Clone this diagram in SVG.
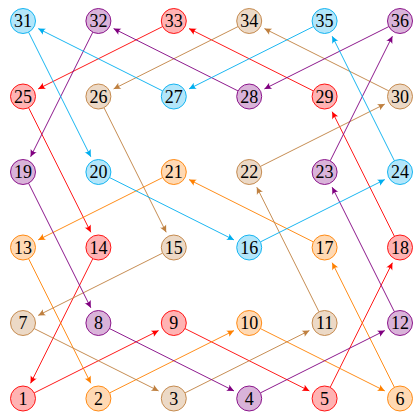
<svg xmlns="http://www.w3.org/2000/svg" width="413" height="417" viewBox="0 0 413 417">
<style>
.n circle{stroke-width:0.9}
.n text{font-family:"Liberation Serif","DejaVu Serif",serif;font-size:18px;text-anchor:middle;fill:#000}
.red circle{fill:#ffb3b3;stroke:#ff0000}
.org circle{fill:#ffd9b3;stroke:#ff8000}
.tan circle{fill:#ecd9c6;stroke:#bf8040}
.pur circle{fill:#d9b3d9;stroke:#800080}
.cya circle{fill:#b3e6fa;stroke:#00aeef}
.e line{stroke-width:0.9;fill:none}
.er{stroke:#ff0000;marker-end:url(#ar)}
.eo{stroke:#ff8000;marker-end:url(#ao)}
.et{stroke:#bf8040;marker-end:url(#at)}
.ep{stroke:#800080;marker-end:url(#ap)}
.ec{stroke:#00aeef;marker-end:url(#ac)}
</style>
<defs>
<marker id="ar" viewBox="-8 -5 10 10" refX="0" refY="0" markerWidth="10" markerHeight="10" markerUnits="userSpaceOnUse" orient="auto"><path d="M0,0 L-7,-3.4 Q-4.6,0 -7,3.4 Z" fill="#ff0000"/></marker>
<marker id="ao" viewBox="-8 -5 10 10" refX="0" refY="0" markerWidth="10" markerHeight="10" markerUnits="userSpaceOnUse" orient="auto"><path d="M0,0 L-7,-3.4 Q-4.6,0 -7,3.4 Z" fill="#ff8000"/></marker>
<marker id="at" viewBox="-8 -5 10 10" refX="0" refY="0" markerWidth="10" markerHeight="10" markerUnits="userSpaceOnUse" orient="auto"><path d="M0,0 L-7,-3.4 Q-4.6,0 -7,3.4 Z" fill="#bf8040"/></marker>
<marker id="ap" viewBox="-8 -5 10 10" refX="0" refY="0" markerWidth="10" markerHeight="10" markerUnits="userSpaceOnUse" orient="auto"><path d="M0,0 L-7,-3.4 Q-4.6,0 -7,3.4 Z" fill="#800080"/></marker>
<marker id="ac" viewBox="-8 -5 10 10" refX="0" refY="0" markerWidth="10" markerHeight="10" markerUnits="userSpaceOnUse" orient="auto"><path d="M0,0 L-7,-3.4 Q-4.6,0 -7,3.4 Z" fill="#00aeef"/></marker>
</defs>
<g id="connectors" class="e">
<line class="er" x1="34.18" y1="392.91" x2="158.59" y2="330.60"/>
<line class="er" x1="184.98" y1="328.59" x2="309.39" y2="390.90"/>
<line class="er" x1="330.19" y1="387.32" x2="392.40" y2="262.71"/>
<line class="er" x1="394.41" y1="236.32" x2="332.20" y2="111.71"/>
<line class="er" x1="313.42" y1="90.91" x2="189.01" y2="28.60"/>
<line class="er" x1="162.62" y1="26.59" x2="38.21" y2="88.90"/>
<line class="er" x1="28.59" y1="107.68" x2="90.80" y2="232.29"/>
<line class="er" x1="92.81" y1="258.68" x2="30.60" y2="383.29"/>
<line class="eo" x1="109.58" y1="392.91" x2="233.99" y2="330.60"/>
<line class="eo" x1="260.38" y1="328.59" x2="384.79" y2="390.90"/>
<line class="eo" x1="394.41" y1="387.32" x2="332.20" y2="262.71"/>
<line class="eo" x1="313.42" y1="241.91" x2="189.01" y2="179.60"/>
<line class="eo" x1="162.62" y1="177.59" x2="38.21" y2="239.90"/>
<line class="eo" x1="28.59" y1="258.68" x2="90.80" y2="383.29"/>
<line class="et" x1="184.98" y1="392.91" x2="309.39" y2="330.60"/>
<line class="et" x1="319.01" y1="311.82" x2="256.80" y2="187.21"/>
<line class="et" x1="260.38" y1="166.41" x2="384.79" y2="104.10"/>
<line class="et" x1="388.82" y1="90.91" x2="264.41" y2="28.60"/>
<line class="et" x1="238.02" y1="26.59" x2="113.61" y2="88.90"/>
<line class="et" x1="103.99" y1="107.68" x2="166.20" y2="232.29"/>
<line class="et" x1="162.62" y1="253.09" x2="38.21" y2="315.40"/>
<line class="et" x1="34.18" y1="328.59" x2="158.59" y2="390.90"/>
<line class="ep" x1="260.38" y1="392.91" x2="384.79" y2="330.60"/>
<line class="ep" x1="394.41" y1="311.82" x2="332.20" y2="187.21"/>
<line class="ep" x1="330.19" y1="160.82" x2="392.40" y2="36.21"/>
<line class="ep" x1="388.82" y1="26.59" x2="264.41" y2="88.90"/>
<line class="ep" x1="238.02" y1="90.91" x2="113.61" y2="28.60"/>
<line class="ep" x1="92.81" y1="32.18" x2="30.60" y2="156.79"/>
<line class="ep" x1="28.59" y1="183.18" x2="90.80" y2="307.79"/>
<line class="ep" x1="109.58" y1="328.59" x2="233.99" y2="390.90"/>
<line class="ec" x1="260.38" y1="241.91" x2="384.79" y2="179.60"/>
<line class="ec" x1="394.41" y1="160.82" x2="332.20" y2="36.21"/>
<line class="ec" x1="313.42" y1="26.59" x2="189.01" y2="88.90"/>
<line class="ec" x1="162.62" y1="90.91" x2="38.21" y2="28.60"/>
<line class="ec" x1="28.59" y1="32.18" x2="90.80" y2="156.79"/>
<line class="ec" x1="109.58" y1="177.59" x2="233.99" y2="239.90"/>
</g>
<g id="n1" class="n red"><circle cx="23" cy="398.5" r="12.5"/><text x="23" y="404.5">1</text></g>
<g id="n2" class="n org"><circle cx="98.4" cy="398.5" r="12.5"/><text x="98.4" y="404.5">2</text></g>
<g id="n3" class="n tan"><circle cx="173.8" cy="398.5" r="12.5"/><text x="173.8" y="404.5">3</text></g>
<g id="n4" class="n pur"><circle cx="249.2" cy="398.5" r="12.5"/><text x="249.2" y="404.5">4</text></g>
<g id="n5" class="n red"><circle cx="324.6" cy="398.5" r="12.5"/><text x="324.6" y="404.5">5</text></g>
<g id="n6" class="n org"><circle cx="400" cy="398.5" r="12.5"/><text x="400" y="404.5">6</text></g>
<g id="n7" class="n tan"><circle cx="23" cy="323" r="12.5"/><text x="23" y="329">7</text></g>
<g id="n8" class="n pur"><circle cx="98.4" cy="323" r="12.5"/><text x="98.4" y="329">8</text></g>
<g id="n9" class="n red"><circle cx="173.8" cy="323" r="12.5"/><text x="173.8" y="329">9</text></g>
<g id="n10" class="n org"><circle cx="249.2" cy="323" r="12.5"/><text x="249.2" y="329">10</text></g>
<g id="n11" class="n tan"><circle cx="324.6" cy="323" r="12.5"/><text x="324.6" y="329">11</text></g>
<g id="n12" class="n pur"><circle cx="400" cy="323" r="12.5"/><text x="400" y="329">12</text></g>
<g id="n13" class="n org"><circle cx="23" cy="247.5" r="12.5"/><text x="23" y="253.5">13</text></g>
<g id="n14" class="n red"><circle cx="98.4" cy="247.5" r="12.5"/><text x="98.4" y="253.5">14</text></g>
<g id="n15" class="n tan"><circle cx="173.8" cy="247.5" r="12.5"/><text x="173.8" y="253.5">15</text></g>
<g id="n16" class="n cya"><circle cx="249.2" cy="247.5" r="12.5"/><text x="249.2" y="253.5">16</text></g>
<g id="n17" class="n org"><circle cx="324.6" cy="247.5" r="12.5"/><text x="324.6" y="253.5">17</text></g>
<g id="n18" class="n red"><circle cx="400" cy="247.5" r="12.5"/><text x="400" y="253.5">18</text></g>
<g id="n19" class="n pur"><circle cx="23" cy="172" r="12.5"/><text x="23" y="178">19</text></g>
<g id="n20" class="n cya"><circle cx="98.4" cy="172" r="12.5"/><text x="98.4" y="178">20</text></g>
<g id="n21" class="n org"><circle cx="173.8" cy="172" r="12.5"/><text x="173.8" y="178">21</text></g>
<g id="n22" class="n tan"><circle cx="249.2" cy="172" r="12.5"/><text x="249.2" y="178">22</text></g>
<g id="n23" class="n pur"><circle cx="324.6" cy="172" r="12.5"/><text x="324.6" y="178">23</text></g>
<g id="n24" class="n cya"><circle cx="400" cy="172" r="12.5"/><text x="400" y="178">24</text></g>
<g id="n25" class="n red"><circle cx="23" cy="96.5" r="12.5"/><text x="23" y="102.5">25</text></g>
<g id="n26" class="n tan"><circle cx="98.4" cy="96.5" r="12.5"/><text x="98.4" y="102.5">26</text></g>
<g id="n27" class="n cya"><circle cx="173.8" cy="96.5" r="12.5"/><text x="173.8" y="102.5">27</text></g>
<g id="n28" class="n pur"><circle cx="249.2" cy="96.5" r="12.5"/><text x="249.2" y="102.5">28</text></g>
<g id="n29" class="n red"><circle cx="324.6" cy="96.5" r="12.5"/><text x="324.6" y="102.5">29</text></g>
<g id="n30" class="n tan"><circle cx="400" cy="96.5" r="12.5"/><text x="400" y="102.5">30</text></g>
<g id="n31" class="n cya"><circle cx="23" cy="21" r="12.5"/><text x="23" y="27">31</text></g>
<g id="n32" class="n pur"><circle cx="98.4" cy="21" r="12.5"/><text x="98.4" y="27">32</text></g>
<g id="n33" class="n red"><circle cx="173.8" cy="21" r="12.5"/><text x="173.8" y="27">33</text></g>
<g id="n34" class="n tan"><circle cx="249.2" cy="21" r="12.5"/><text x="249.2" y="27">34</text></g>
<g id="n35" class="n cya"><circle cx="324.6" cy="21" r="12.5"/><text x="324.6" y="27">35</text></g>
<g id="n36" class="n pur"><circle cx="400" cy="21" r="12.5"/><text x="400" y="27">36</text></g>
</svg>
